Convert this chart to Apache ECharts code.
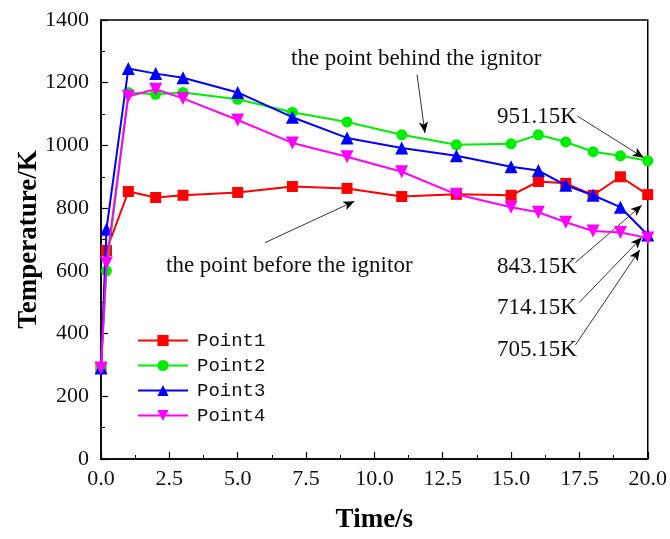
<!DOCTYPE html>
<html>
<head>
<meta charset="utf-8">
<script src="https://cdn.jsdelivr.net/npm/echarts@6/dist/echarts.min.js"></script>
<style>
html,body{margin:0;padding:0;background:#fff;}
#chart{width:670px;height:539px;}
</style>
</head>
<body>
<div id="chart"></div>
<script>
// Sampling times (s)
const times = [0, 0.2, 1, 2, 3, 5, 7, 9, 11, 13, 15, 16, 17, 18, 19, 20];
// Temperatures (K) at each monitoring point
const point1 = [290, 665, 853, 834, 841, 850, 869, 863, 837, 844, 841, 885, 879, 841, 900, 843.15];
const point2 = [290, 600, 1169, 1163, 1169, 1147, 1106, 1075, 1034, 1002, 1005, 1034, 1011, 980, 967, 951.15];
const point3 = [290, 733, 1245, 1229, 1216, 1169, 1090, 1024, 992, 967, 932, 920, 873, 841, 803, 714.15];
const point4 = [290, 625, 1157, 1179, 1150, 1081, 1008, 964, 916, 844, 803, 787, 755, 727, 722, 705.15];
const seriesNames = ['Point1', 'Point2', 'Point3', 'Point4'];

const serif = '"Liberation Serif", "Times New Roman", serif';
const colors = ['#ff0000', '#00ee00', '#0000ff', '#ff00ff'];
const symbols = ['rect', 'circle', 'triangle', 'path://M0,0 L10,0 L5,10 Z'];
const symbolSizes = [11, 11, 13, 13];
const allValues = [point1, point2, point3, point4];

const chart = echarts.init(document.getElementById('chart'), null, {renderer: 'canvas'});

function pairs(vals) { return times.map((t, i) => [t, vals[i]]); }

// Arrows: [start, end] in data coordinates
const arrows = [
  [[11.56, 1226], [11.85, 1040]],
  [[6.0, 690], [9.27, 822]],
  [[17.42, 1094], [19.85, 961]],
  [[17.35, 626], [19.78, point1[15] - 34]],
  [[17.49, 499], [19.78, point3[15] - 8]],
  [[17.35, 363], [19.71, point4[15] - 38]]
];

const series = seriesNames.map((name, k) => ({
  name: name,
  type: 'line',
  data: pairs(allValues[k]),
  symbol: symbols[k],
  symbolSize: symbolSizes[k],
  itemStyle: {color: colors[k]},
  lineStyle: {color: colors[k], width: 2},
  z: 3 + k
}));

series.push({
  name: 'arrows',
  type: 'line',
  data: [],
  silent: true,
  markLine: {
    silent: true,
    symbol: ['none', 'arrow'],
    symbolSize: [7, 11],
    label: {show: false},
    lineStyle: {color: '#000', width: 0.8, type: 'solid'},
    data: arrows.map(a => [{coord: a[0]}, {coord: a[1]}])
  }
});

const annFont = '23px ' + serif;

const option = {
  backgroundColor: '#fff',
  animation: false,
  grid: {left: 101, right: 19, top: 20, bottom: 76, show: true, borderColor: '#000', borderWidth: 1.5, backgroundColor: 'transparent'},
  xAxis: {
    type: 'value', min: 0, max: 20, interval: 2.5,
    name: 'Time/s', nameLocation: 'middle', nameGap: 48,
    nameTextStyle: {fontFamily: serif, fontWeight: 'bold', fontSize: 27, color: '#000'},
    axisLine: {lineStyle: {color: '#000', width: 1.5}},
    axisTick: {inside: true, length: 7, lineStyle: {color: '#000', width: 1.2}},
    minorTick: {show: true, splitNumber: 2, length: 4, lineStyle: {color: '#000', width: 1}},
    splitLine: {show: false},
    axisLabel: {fontFamily: serif, fontSize: 22, color: '#111', margin: 9, formatter: v => v.toFixed(1)}
  },
  yAxis: {
    type: 'value', min: 0, max: 1400, interval: 200,
    name: 'Temperature/K', nameLocation: 'middle', nameGap: 58, nameRotate: 90,
    nameMoveOverlap: false,
    nameTextStyle: {fontFamily: serif, fontWeight: 'bold', fontSize: 27, color: '#000'},
    axisLine: {lineStyle: {color: '#000', width: 1.5}},
    axisTick: {inside: true, length: 7, lineStyle: {color: '#000', width: 1.2}},
    minorTick: {show: true, splitNumber: 2, length: 4, lineStyle: {color: '#000', width: 1}},
    splitLine: {show: false},
    axisLabel: {fontFamily: serif, fontSize: 22, color: '#111', margin: 12, formatter: v => String(v)}
  },
  legend: {
    data: seriesNames,
    orient: 'vertical',
    left: 137, top: 331, padding: 0,
    itemWidth: 50, itemHeight: 14, itemGap: 6,
    textStyle: {fontFamily: '"Liberation Mono", "DejaVu Sans Mono", monospace', fontSize: 19, color: '#111', padding: [0, 0, 0, 4]}
  },
  series: series,
  graphic: [
    {type: 'text', left: 291, top: 47, style: {text: 'the point behind the ignitor', font: annFont, fill: '#111'}},
    {type: 'text', left: 166, top: 254, style: {text: 'the point before the ignitor', font: annFont, fill: '#111'}},
    {type: 'text', left: 497, top: 105, style: {text: point2[15].toFixed(2) + 'K', font: annFont, fill: '#111'}},
    {type: 'text', left: 497, top: 255, style: {text: point1[15].toFixed(2) + 'K', font: annFont, fill: '#111'}},
    {type: 'text', left: 497, top: 296, style: {text: point3[15].toFixed(2) + 'K', font: annFont, fill: '#111'}},
    {type: 'text', left: 497, top: 338, style: {text: point4[15].toFixed(2) + 'K', font: annFont, fill: '#111'}}
  ]
};
chart.setOption(option);
</script>
</body>
</html>
